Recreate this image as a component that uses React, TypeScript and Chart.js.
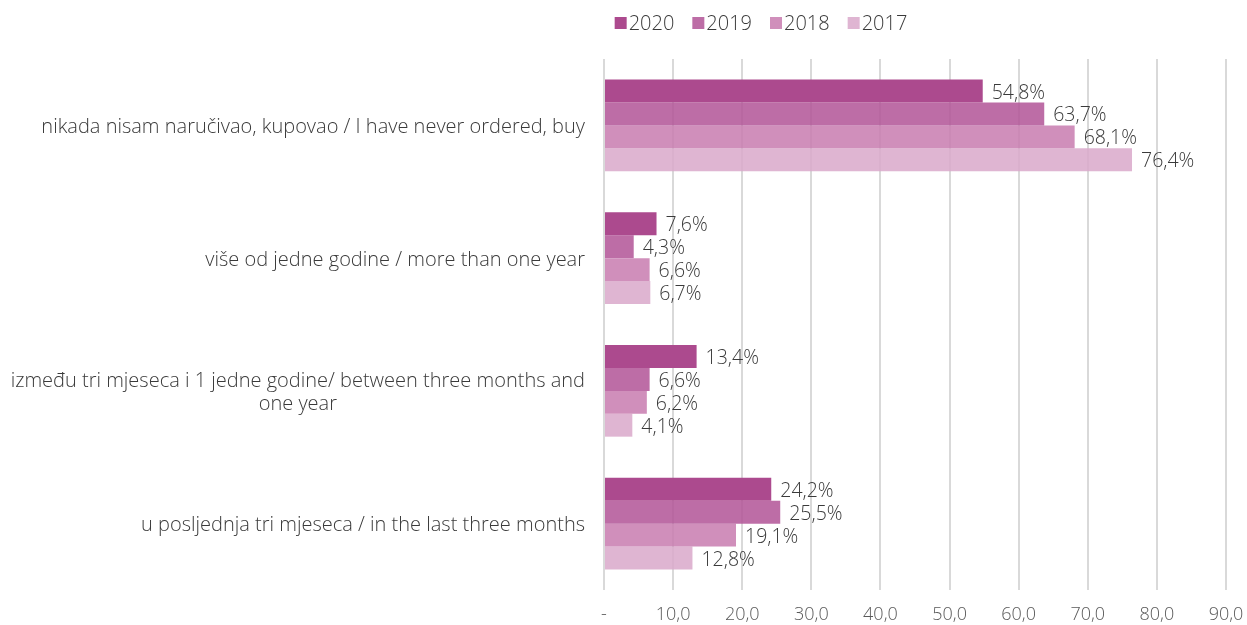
import React, { useEffect, useRef } from "react";
import { Chart, registerables } from "chart.js";

Chart.register(...registerables);

const categories: string[][] = [
  ["nikada nisam naručivao, kupovao / I have never ordered, buy"],
  ["više od jedne godine / more than one year"],
  ["između tri mjeseca i 1 jedne godine/ between three months and", "one year"],
  ["u posljednja tri mjeseca / in the last three months"],
];
const seriesNames = ["2020", "2019", "2018", "2017"];
const values2020 = [54.8, 7.6, 13.4, 24.2];
const values2019 = [63.7, 4.3, 6.6, 25.5];
const values2018 = [68.1, 6.6, 6.2, 19.1];
const values2017 = [76.4, 6.7, 4.1, 12.8];
const legendColors = ["#AC4A8E", "#BD6DA6", "#D08FBB", "#DFB5D2"];
const barColors = ["#AC4A8E", "rgba(177,83,150,0.85)", "rgba(200,123,175,0.85)", "rgba(217,168,202,0.85)"];
const xTicks = [0, 10, 20, 30, 40, 50, 60, 70, 80, 90];

const FONT = "'Open Sans', 'Noto Sans', sans-serif";
const TEXT = "#3a3a3a";

const fmt = (v: number) => v.toFixed(1).replace(".", ",");

const customPlugin = {
  id: "customLabels",
  afterDatasetsDraw(chart: any) {
    const ctx = chart.ctx;
    ctx.save();
    ctx.font = `300 19.5px ${FONT}`;
    ctx.fillStyle = TEXT;
    ctx.textBaseline = "middle";
    ctx.textAlign = "left";
    chart.data.datasets.forEach((ds: any, di: number) => {
      const meta = chart.getDatasetMeta(di);
      meta.data.forEach((bar: any, i: number) => {
        ctx.fillText(fmt(ds.data[i]) + "%", bar.x + 9, bar.y + 2);
      });
    });
    // category labels
    ctx.font = `300 20px ${FONT}`;
    const ys = chart.scales.y;
    const rightX = chart.chartArea.left - 19;
    categories.forEach((lines, i) => {
      const cy = ys.getPixelForValue(i) + 2;
      const lh = 23;
      const widths = lines.map((l: string) => ctx.measureText(l).width);
      const widest = Math.max(...widths);
      const startY = cy - ((lines.length - 1) * lh) / 2;
      lines.forEach((l: string, li: number) => {
        ctx.textAlign = "center";
        ctx.fillText(l, rightX - widest / 2, startY + li * lh);
      });
    });
    // x tick labels
    const xs = chart.scales.x;
    ctx.font = `300 18px ${FONT}`;
    ctx.fillStyle = "#595959";
    ctx.textAlign = "center";
    xTicks.forEach((v) => {
      ctx.fillText(v === 0 ? "-" : fmt(v), xs.getPixelForValue(v), chart.chartArea.bottom + 25);
    });
    // legend
    ctx.font = `300 20px ${FONT}`;
    ctx.textAlign = "left";
    const box = 12;
    const gapBoxText = 2;
    const gapItems = 18;
    const items = seriesNames.map((n) => box + gapBoxText + ctx.measureText(n).width);
    const total = items.reduce((a, b) => a + b, 0) + gapItems * (items.length - 1);
    let x = 761 - total / 2;
    const ly = 23;
    seriesNames.forEach((n, i) => {
      ctx.fillStyle = legendColors[i];
      ctx.fillRect(x, ly - box / 2, box, box);
      ctx.fillStyle = TEXT;
      ctx.fillText(n, x + box + gapBoxText, ly + 1);
      x += items[i] + gapItems;
    });
    ctx.restore();
  },
};

export default function App() {
  const ref = useRef<HTMLCanvasElement>(null);
  useEffect(() => {
    if (!ref.current) return;
    const allVals = [values2020, values2019, values2018, values2017];
    const chart = new Chart(ref.current, {
      type: "bar",
      data: {
        labels: categories.map((c) => c.join(" ")),
        datasets: seriesNames.map((n, i) => ({
          label: n,
          data: allVals[i],
          backgroundColor: barColors[i],
          borderWidth: 0,
          categoryPercentage: 0.69,
          barPercentage: 1,
        })),
      },
      options: {
        indexAxis: "y",
        animation: false,
        responsive: true,
        maintainAspectRatio: false,
        layout: { padding: { left: 604, right: 21, top: 59, bottom: 35 } },
        plugins: {
          legend: { display: false },
          tooltip: { enabled: false },
        },
        scales: {
          x: {
            min: 0,
            max: 90,
            afterBuildTicks: (s: any) => {
              s.ticks = xTicks.map((v) => ({ value: v }));
            },
            ticks: { display: false },
            grid: { color: "#d9d9d9", lineWidth: 2, drawTicks: false },
            border: { display: false },
          },
          y: {
            display: false,
          },
        },
      },
      plugins: [customPlugin],
    });
    return () => chart.destroy();
  }, []);
  return (
    <div style={{ position: "absolute", left: 0, top: 0, width: 1247, height: 625 }}>
      <canvas ref={ref} />
    </div>
  );
}
